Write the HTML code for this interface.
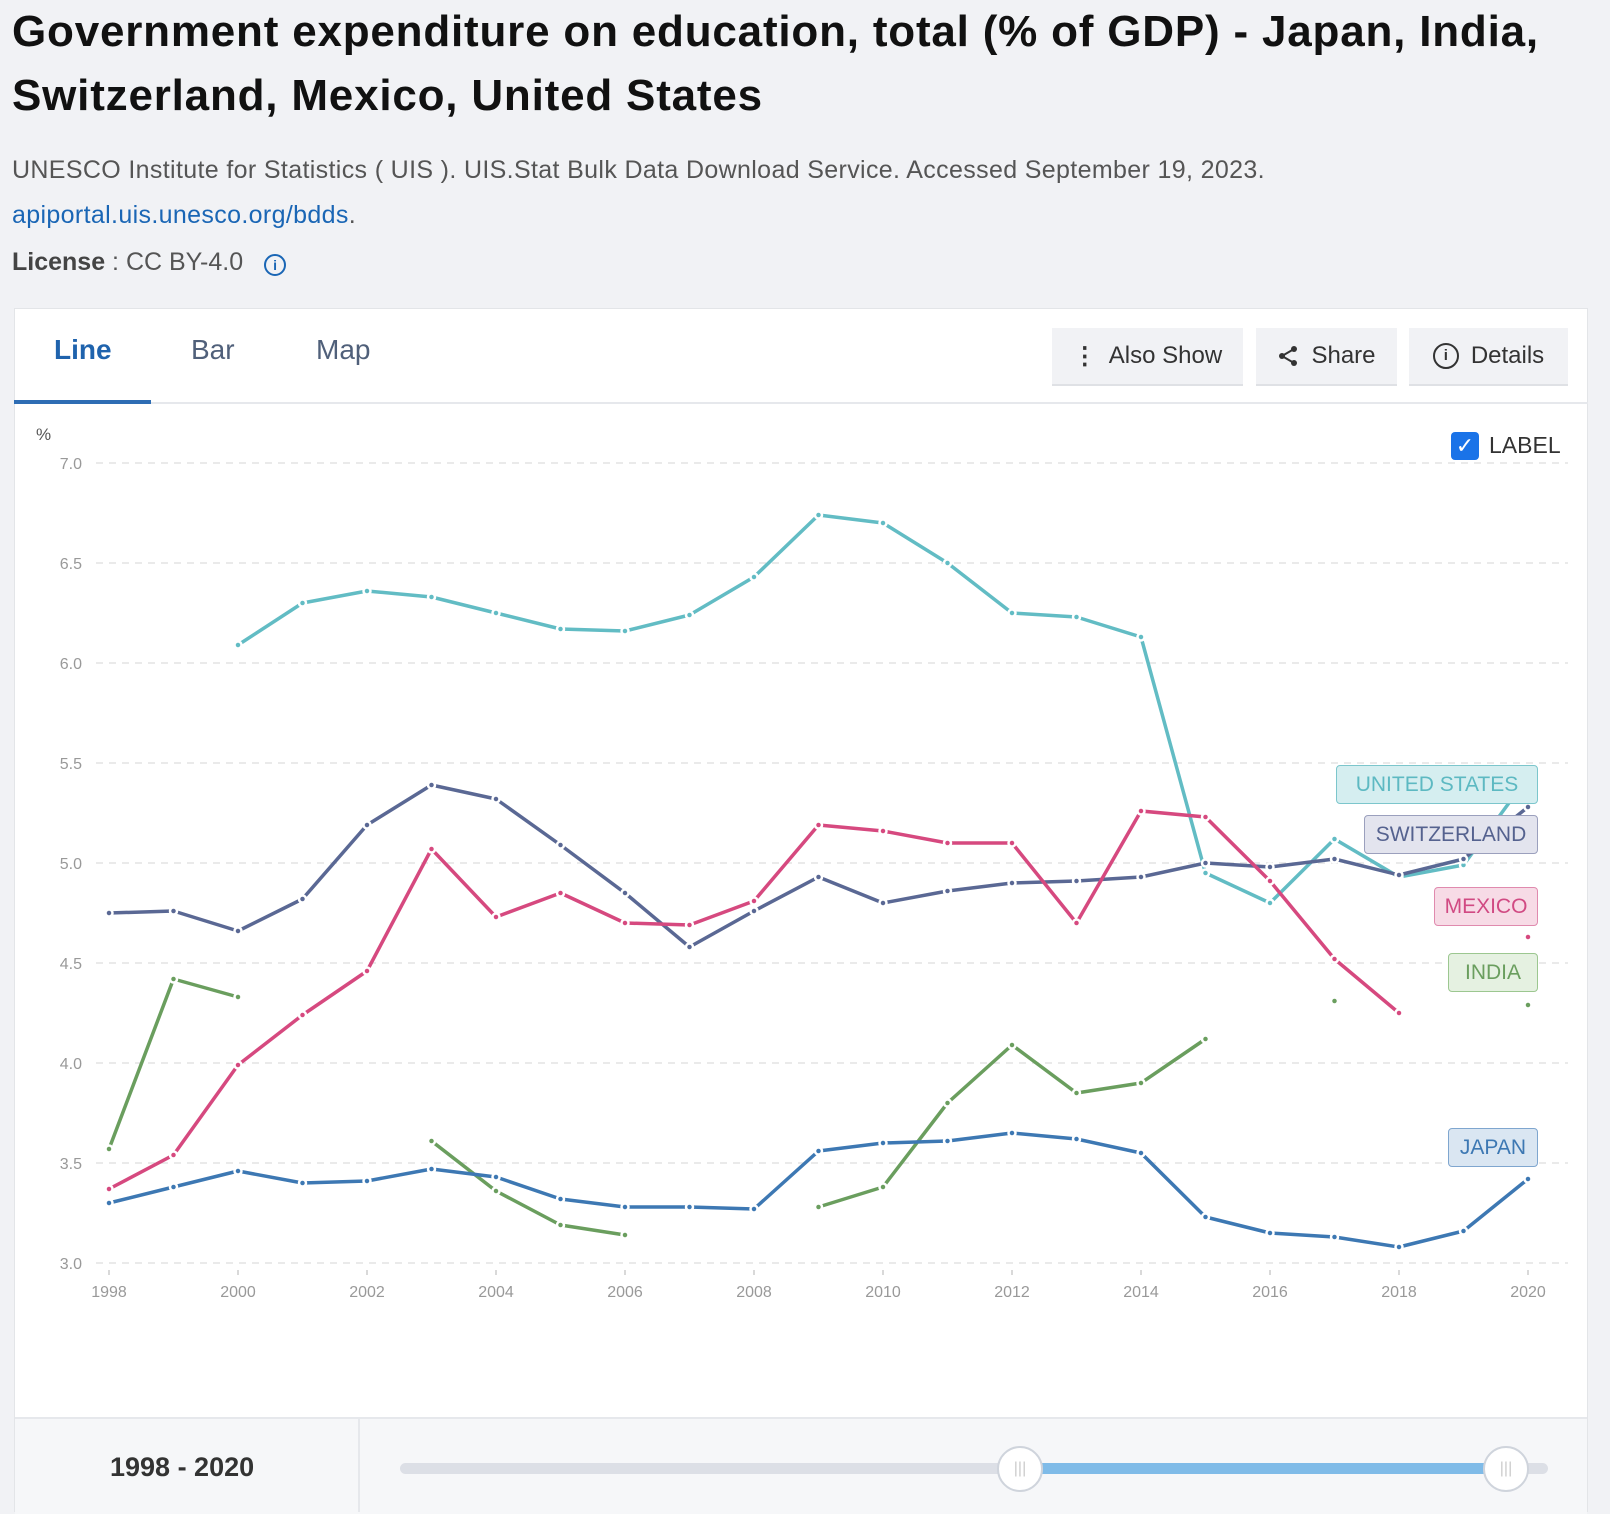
<!DOCTYPE html>
<html><head><meta charset="utf-8">
<style>
body{margin:0;width:1610px;height:1512px;background:#f1f2f5;font-family:"Liberation Sans",sans-serif;position:relative;overflow:hidden}
.abs{position:absolute}
.btn{position:absolute;top:328px;height:58px;background:#f1f2f5;border-bottom:2px solid #dfe1e5;box-sizing:border-box;font-size:24px;color:#333;display:flex;align-items:center;justify-content:center;gap:12px}
.tab{position:absolute;top:334px;font-size:28px;color:#50607a}
.lab{position:absolute;height:39px;box-sizing:border-box;border:1.5px solid;border-radius:4px;font-size:21px;display:flex;align-items:center;justify-content:center}
</style></head><body>
<div class="abs" style="left:12px;top:0;font-size:44px;letter-spacing:0.8px;font-weight:bold;color:#111;line-height:64px;width:1595px">Government expenditure on education, total (% of GDP) - Japan, India, Switzerland, Mexico, United States</div>
<div class="abs" style="left:12px;top:156px;font-size:25px;letter-spacing:0.35px;color:#555">UNESCO Institute for Statistics ( UIS ). UIS.Stat Bulk Data Download Service. Accessed September 19, 2023.</div>
<div class="abs" style="left:12px;top:201px;font-size:25px;letter-spacing:0.35px;color:#1a66b5">apiportal.uis.unesco.org/bdds<span style="color:#555">.</span></div>
<div class="abs" style="left:12px;top:248px;font-size:25px;color:#555"><b style="color:#444">License</b> : CC BY-4.0 <span style="display:inline-block;width:18px;height:18px;border:2px solid #1a66b5;border-radius:50%;color:#1a66b5;font-size:14px;text-align:center;line-height:18px;margin-left:14px;font-weight:bold">i</span></div>

<div class="abs" style="left:14px;top:308px;width:1574px;height:1204px;background:#fff;border:1px solid #e3e5e8;box-sizing:border-box"></div>
<div class="abs" style="left:14px;top:402px;width:1574px;height:2px;background:#e6e8ec"></div>
<div class="abs" style="left:14px;top:400px;width:137px;height:4px;background:#2e6db4"></div>
<div class="tab" style="left:54px;color:#1f63ad;font-weight:bold">Line</div>
<div class="tab" style="left:191px">Bar</div>
<div class="tab" style="left:316px">Map</div>
<div class="btn" style="left:1052px;width:191px"><span style="font-weight:bold">⋮</span>Also Show</div>
<div class="btn" style="left:1256px;width:141px"><svg width="22" height="22" viewBox="0 0 22 22"><circle cx="17" cy="4" r="3" fill="#333"/><circle cx="5" cy="11" r="3" fill="#333"/><circle cx="17" cy="18" r="3" fill="#333"/><path d="M17 4L5 11L17 18" stroke="#333" stroke-width="2" fill="none"/></svg>Share</div>
<div class="btn" style="left:1409px;width:159px"><span style="display:inline-block;width:22px;height:22px;border:2px solid #333;border-radius:50%;font-size:15px;text-align:center;line-height:22px;font-weight:bold">i</span>Details</div>

<div class="abs" style="left:1451px;top:432px;width:28px;height:28px;background:#1a73e8;border-radius:4px;color:#fff;font-size:22px;text-align:center;line-height:28px">✓</div>
<div class="abs" style="left:1489px;top:432px;font-size:23px;color:#333">LABEL</div>

<svg class="abs" style="left:0;top:0" width="1610" height="1512" id="chart"></svg>

<div class="lab" style="left:1336px;top:765px;width:202px;border-color:#7cc6cc;background:#d5eef0;color:#5db9c2">UNITED STATES</div>
<div class="lab" style="left:1364px;top:815px;width:174px;border-color:#9ba0bd;background:#e3e4ee;color:#55628f">SWITZERLAND</div>
<div class="lab" style="left:1434px;top:887px;width:104px;border-color:#e08aae;background:#f7dbe6;color:#d14a83">MEXICO</div>
<div class="lab" style="left:1448px;top:953px;width:90px;border-color:#9cc790;background:#e5f1e1;color:#6a9e5e">INDIA</div>
<div class="lab" style="left:1448px;top:1128px;width:90px;border-color:#7fa6cf;background:#dae6f2;color:#3d78b3">JAPAN</div>

<div class="abs" style="left:15px;top:1417px;width:1572px;height:95px;background:#f6f7f9;border-top:2px solid #e6e8ec"></div>
<div class="abs" style="left:358px;top:1419px;width:2px;height:93px;background:#e6e8ec"></div>
<div class="abs" style="left:110px;top:1452px;font-size:27px;font-weight:bold;color:#333">1998 - 2020</div>
<div class="abs" style="left:400px;top:1463px;width:1148px;height:11px;border-radius:6px;background:#dcdfe6"></div>
<div class="abs" style="left:1020px;top:1463px;width:486px;height:11px;background:#7fbbe8"></div>
<div class="abs" style="left:997px;top:1446px;width:42px;height:42px;border-radius:50%;background:#fff;border:2px solid #cfd4dc;color:#ccc;font-size:16px;text-align:center;line-height:42px">|||</div>
<div class="abs" style="left:1483px;top:1446px;width:42px;height:42px;border-radius:50%;background:#fff;border:2px solid #cfd4dc;color:#ccc;font-size:16px;text-align:center;line-height:42px">|||</div>

<script>
const years=[1998,1999,2000,2001,2002,2003,2004,2005,2006,2007,2008,2009,2010,2011,2012,2013,2014,2015,2016,2017,2018,2019,2020];
const yTicks=[3.0,3.5,4.0,4.5,5.0,5.5,6.0,6.5,7.0];
const xTicks=[1998,2000,2002,2004,2006,2008,2010,2012,2014,2016,2018,2020];
const unitedStates=[null,null,6.09,6.30,6.36,6.33,6.25,6.17,6.16,6.24,6.43,6.74,6.70,6.50,6.25,6.23,6.13,4.95,4.80,5.12,4.93,4.99,5.43];
const switzerland=[4.75,4.76,4.66,4.82,5.19,5.39,5.32,5.09,4.85,4.58,4.76,4.93,4.80,4.86,4.90,4.91,4.93,5.00,4.98,5.02,4.94,5.02,5.28];
const mexico=[3.37,3.54,3.99,4.24,4.46,5.07,4.73,4.85,4.70,4.69,4.81,5.19,5.16,5.10,5.10,4.70,5.26,5.23,4.91,4.52,4.25,null,4.63];
const india=[3.57,4.42,4.33,null,null,3.61,3.36,3.19,3.14,null,null,3.28,3.38,3.80,4.09,3.85,3.90,4.12,null,4.31,null,null,4.29];
const japan=[3.30,3.38,3.46,3.40,3.41,3.47,3.43,3.32,3.28,3.28,3.27,3.56,3.60,3.61,3.65,3.62,3.55,3.23,3.15,3.13,3.08,3.16,3.42];

const NS='http://www.w3.org/2000/svg';
const svg=document.getElementById('chart');
const x=y=>109+(y-1998)*(1528-109)/22;
const yv=v=>1263-(v-3)*200;
function mk(t,a,p){const e=document.createElementNS(NS,t);for(const k in a)e.setAttribute(k,a[k]);(p||svg).appendChild(e);return e;}
yTicks.forEach(v=>{
 const g=mk('line',{x1:96,x2:1568,y1:yv(v),y2:yv(v),stroke:'#e3e3e3','stroke-width':1.5,'stroke-dasharray':'7,6'});
 
 
 const t=mk('text',{x:82,y:yv(v)+6,'text-anchor':'end','font-size':16,fill:'#999','font-family':'Liberation Sans, sans-serif'});
 t.textContent=v.toFixed(1);
 
 
});
const pct=mk('text',{x:36,y:440,'font-size':17,fill:'#555','font-family':'Liberation Sans, sans-serif'});pct.textContent='%';


xTicks.forEach(yr=>{
 mk('line',{x1:x(yr),x2:x(yr),y1:1270,y2:1275,stroke:'#ccc','stroke-width':1.5});
 const t=mk('text',{x:x(yr),y:1297,'text-anchor':'middle','font-size':16,fill:'#999','font-family':'Liberation Sans, sans-serif'});
 t.textContent=yr;
 
 
});
function series(vals,color,name){
 const g=mk('g',{});
 
 
 let seg=[];
 const flush=()=>{if(seg.length>1)mk('polyline',{points:seg.join(' '),fill:'none',stroke:color,'stroke-width':3.5,'stroke-linejoin':'round'},g);seg=[];};
 vals.forEach((v,i)=>{if(v==null){flush();return;}seg.push(x(years[i])+','+yv(v));});
 flush();
 vals.forEach((v,i)=>{if(v==null)return;
  const c=mk('circle',{cx:x(years[i]),cy:yv(v),r:3.5,fill:color,stroke:'#fff','stroke-width':2.5},g);
  
  
 });
}
series(unitedStates,'#62bcc4','united-states');
series(switzerland,'#5a6894','switzerland');
series(mexico,'#d6497f','mexico');
series(india,'#6a9e5e','india');
series(japan,'#3d78b3','japan');
</script>
</body></html>
